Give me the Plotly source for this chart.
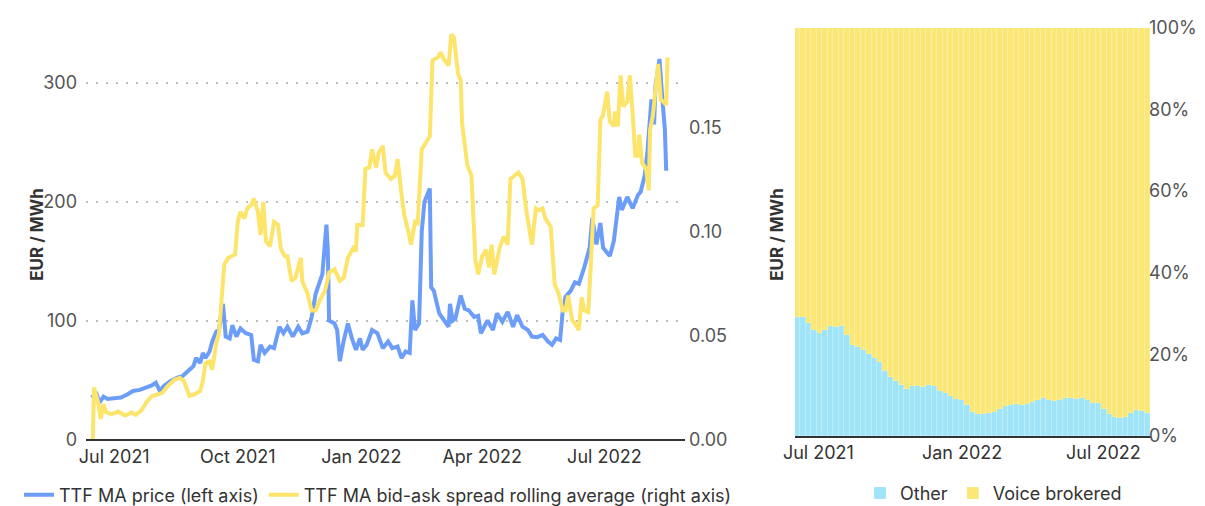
import pandas as pd
import plotly.graph_objects as go

# ---------------- data ----------------
BASE = pd.Timestamp("2021-07-01")

# TTF MA price (EUR/MWh) - days relative to 1 Jul 2021
price_days = [-17, -13, -11, -8, -5, 0, 5, 10, 14, 19, 24, 28, 31, 34, 37, 42, 47, 51, 55, 59,
              61, 64, 66, 68, 71, 73, 76, 78, 81, 83, 86, 88, 91, 94, 98, 102, 104, 107, 109, 112,
              116, 119, 123, 126, 129, 133, 137, 140, 144, 147, 150, 153, 155, 158, 159, 160, 164, 166, 168, 171,
              174, 177, 180, 183, 185, 188, 192, 196, 200, 204, 207, 211, 214, 217, 220, 222, 224, 227, 229, 231,
              235, 236, 238, 242, 246, 249, 250, 252, 254, 258, 261, 264, 268, 271, 273, 278, 282, 285, 289, 293,
              297, 300, 304, 308, 311, 315, 319, 323, 326, 329, 332, 334, 336, 340, 343, 346, 350, 354, 356, 359,
              362, 364, 369, 372, 376, 378, 382, 386, 390, 392, 395, 397, 400, 402, 403, 406, 408, 410, 411]
price = [35.3, 38, 31, 36, 34, 34.5, 35.3, 38, 40.8, 41.7, 43.6, 45.5, 47.8, 40.8, 45, 49.2, 52, 53.3, 57.5, 61.6,
         68.5, 64.4, 72.7, 68.5, 74, 82.4, 90.7, 92, 114, 86.5, 85, 96, 86.5, 93.4, 89.3, 87.9, 67, 65.8, 79.6, 72.7,
         78, 76.8, 94.8, 89.3, 94.8, 86.5, 94.8, 89.3, 90.7, 103, 122.5, 133.6, 139, 180.6, 161, 100, 97.6, 92, 65.8, 83.7,
         97.6, 85, 75.4, 85, 75.4, 79.6, 92, 89.3, 76.8, 82.4, 76.8, 78.2, 68.5, 74, 72.7, 117, 92, 97.6, 175, 200,
         211, 128, 125, 106, 100, 94.8, 114, 100, 101.7, 121, 110, 108.6, 103, 104, 89.3, 100, 92, 106, 99, 107.3,
         94.8, 104.5, 94.8, 92, 86.5, 86, 87.9, 82.4, 79.6, 85, 83.7, 108.6, 119.8, 125.2, 132.2, 130.8, 144.7, 161.3, 186.2, 164,
         182, 161.3, 154.3, 166.8, 204, 193, 204, 194.5, 205.6, 208.3, 222, 241.5, 286, 265, 297, 320, 288.6, 261, 226]

# TTF MA bid-ask spread rolling average - days relative to 1 Jul 2021
spread_days = [-16, -15, -12, -10, -8, -6, -2, 3, 8, 13, 16, 20, 24, 28, 33, 36, 40, 45, 49, 52,
               56, 60, 64, 66, 68, 71, 73, 76, 78, 80, 82, 85, 87, 90, 92, 94, 97, 99, 102, 104,
               107, 109, 111, 113, 116, 119, 122, 124, 127, 129, 132, 135, 139, 140, 144, 147, 150, 153, 157, 160,
               164, 168, 171, 174, 178, 180, 181, 185, 187, 190, 192, 195, 197, 200, 202, 206, 209, 211, 214, 216,
               219, 221, 224, 226, 229, 232, 235, 237, 241, 243, 246, 249, 251, 253, 256, 258, 259, 263, 266, 269,
               271, 274, 277, 279, 281, 283, 287, 290, 293, 295, 298, 301, 304, 307, 311, 314, 316, 319, 321, 325,
               328, 331, 334, 336, 338, 341, 343, 346, 348, 350, 353, 355, 357, 360, 362, 364, 367, 369, 372, 373,
               375, 377, 379, 382, 384, 386, 388, 390, 391, 393, 396, 398, 399, 401, 403, 405, 407, 409, 411, 412]
spread = [0.0, 0.0249, 0.0178, 0.0099, 0.017, 0.013, 0.0122, 0.0134, 0.0115, 0.013, 0.0118, 0.0138, 0.0178, 0.0209, 0.0217, 0.0225, 0.0257, 0.0288, 0.0296, 0.028,
          0.021, 0.0217, 0.0233, 0.028, 0.0367, 0.0375, 0.0336, 0.0462, 0.051, 0.0667, 0.0841, 0.0873, 0.088, 0.0889, 0.1046, 0.1094, 0.1062, 0.111, 0.1126, 0.1157,
          0.1094, 0.0983, 0.1141, 0.0952, 0.0928, 0.1046, 0.1031, 0.092, 0.088, 0.088, 0.0762, 0.0778, 0.0873, 0.0762, 0.0699, 0.062, 0.062, 0.0667, 0.0715, 0.0802,
          0.0818, 0.0762, 0.0778, 0.0873, 0.092, 0.0904, 0.1031, 0.1031, 0.13, 0.1307, 0.1394, 0.1307, 0.1378, 0.141, 0.1283, 0.1252, 0.1268, 0.1347, 0.1173, 0.1078,
          0.0999, 0.0936, 0.1046, 0.1039, 0.1394, 0.1426, 0.1457, 0.1821, 0.1836, 0.186, 0.1821, 0.1797, 0.1947, 0.1931, 0.1757, 0.1726, 0.152, 0.1315, 0.1268, 0.0857,
          0.0794, 0.088, 0.0912, 0.0826, 0.0936, 0.0794, 0.092, 0.0975, 0.0936, 0.1252, 0.1268, 0.1283, 0.1252, 0.1094, 0.0936, 0.111, 0.1102, 0.111, 0.1062, 0.1023,
          0.0746, 0.0699, 0.062, 0.062, 0.0691, 0.0573, 0.0557, 0.0525, 0.0683, 0.062, 0.0612, 0.0873, 0.111, 0.1126, 0.1536, 0.156, 0.1671, 0.1528, 0.1505, 0.1576,
          0.1505, 0.175, 0.16, 0.1623, 0.175, 0.1568, 0.1363, 0.1363, 0.1465, 0.1331, 0.13, 0.1197, 0.1489, 0.1552, 0.1663, 0.1805, 0.1631, 0.1623, 0.1607, 0.1836]

# Weekly share of traded volume (%), weeks starting 1 Jun 2021
week_start = "2021-06-01"
other_share = [29.3, 29.3, 27.8, 26.1, 25.2, 26.1, 26.9, 26.8, 27.0, 24.8,
               22.3, 21.8, 21.1, 20.1, 19.1, 18.2, 16.0, 14.4, 13.6, 12.5,
               11.7, 12.2, 12.4, 12.1, 12.6, 12.4, 11.2, 10.5, 9.9, 9.2,
               8.9, 7.6, 5.9, 5.5, 5.5, 5.6, 6.0, 6.8, 7.3, 7.6,
               7.8, 7.6, 7.9, 8.3, 8.9, 9.3, 8.9, 8.7, 8.9, 9.3,
               9.4, 9.1, 9.3, 8.8, 8.2, 8.2, 6.8, 5.5, 4.7, 4.4,
               4.6, 5.6, 6.5, 6.2, 5.8]
voice_share = [70.7, 70.7, 72.2, 73.9, 74.8, 73.9, 73.1, 73.2, 73.0, 75.2,
               77.7, 78.2, 78.9, 79.9, 80.9, 81.8, 84.0, 85.6, 86.4, 87.5,
               88.3, 87.8, 87.6, 87.9, 87.4, 87.6, 88.8, 89.5, 90.1, 90.8,
               91.1, 92.4, 94.1, 94.5, 94.5, 94.4, 94.0, 93.2, 92.7, 92.4,
               92.2, 92.4, 92.1, 91.7, 91.1, 90.7, 91.1, 91.3, 91.1, 90.7,
               90.6, 90.9, 90.7, 91.2, 91.8, 91.8, 93.2, 94.5, 95.3, 95.6,
               95.4, 94.4, 93.5, 93.8, 94.2]

left_tick_dates = ["2021-07-01", "2021-10-01", "2022-01-01", "2022-04-01", "2022-07-01"]
left_tick_text = ["Jul 2021", "Oct 2021", "Jan 2022", "Apr 2022", "Jul 2022"]
right_tick_dates = ["2021-07-01", "2022-01-01", "2022-07-01"]
right_tick_text = ["Jul 2021", "Jan 2022", "Jul 2022"]
share_ticks = [0, 20, 40, 60, 80, 100]
share_tick_text = ["0%", "20%", "40%", "60%", "80%", "100%"]

# ---------------- build ----------------
price_dates = [BASE + pd.Timedelta(days=d) for d in price_days]
spread_dates = [BASE + pd.Timedelta(days=d) for d in spread_days]
week_dates = pd.date_range(week_start, periods=len(other_share), freq="7D")
WEEK_MS = 7 * 24 * 3600 * 1000

BLUE = "#6C9DF9"
YELLOW = "#FDE46B"
CYAN = "#9FE4F8"
VOICE = "#FAE775"
FONT = "Inter"

fig = go.Figure()
fig.add_trace(go.Scatter(x=price_dates, y=price, mode="lines", name="TTF MA price (left axis)",
                         line=dict(color=BLUE, width=4), xaxis="x", yaxis="y", legend="legend"))
fig.add_trace(go.Scatter(x=spread_dates, y=spread, mode="lines",
                         name="TTF MA bid-ask spread rolling average (right axis)",
                         line=dict(color=YELLOW, width=4), xaxis="x", yaxis="y2", legend="legend"))
fig.add_trace(go.Bar(x=week_dates, y=other_share, name="Other",
                     marker=dict(color=CYAN, line=dict(width=0.4, color="rgba(255,255,255,0.45)")),
                     width=WEEK_MS, offset=0, xaxis="x2", yaxis="y3", legend="legend2"))
fig.add_trace(go.Bar(x=week_dates, y=voice_share, name="Voice brokered",
                     marker=dict(color=VOICE, line=dict(width=0.4, color="rgba(255,255,255,0.45)")),
                     width=WEEK_MS, offset=0, xaxis="x2", yaxis="y3", legend="legend2"))

W, H = 1205, 506
def px_x(p):
    return p / W
def px_y(p):
    return 1 - p / H

tick_font_dark = dict(family=FONT, size=18, color="#333333")
tick_font_grey = dict(family=FONT, size=18, color="#555555")

fig.update_layout(
    width=W, height=H,
    margin=dict(l=0, r=0, t=0, b=0),
    paper_bgcolor="white", plot_bgcolor="white",
    font=dict(family=FONT, size=18, color="#333333"),
    barmode="stack", bargap=0,
    xaxis=dict(domain=[px_x(78), px_x(677)], anchor="y", type="date",
               range=["2021-06-10", "2022-08-30"],
               tickvals=left_tick_dates, ticktext=left_tick_text, tickfont=tick_font_dark,
               showline=True, linecolor="#333333", linewidth=1.5, showgrid=False, zeroline=False,
               ticks="", automargin=False),
    yaxis=dict(domain=[px_y(437.5), px_y(15.5)], anchor="free", position=px_x(73), range=[0, 350],
               tickvals=[0, 100, 200, 300], tickfont=tick_font_grey,
               showgrid=True, gridcolor="#bdbdbd", griddash="2px,8px", gridwidth=1.5,
               zeroline=False, showline=False, ticks="", ticklabelstandoff=4,
               automargin=False),
    yaxis2=dict(overlaying="y", side="right", anchor="free", position=px_x(670), range=[0, 0.2],
                tickvals=[0, 0.05, 0.10, 0.15], tickformat=".2f", tickfont=tick_font_grey,
                showgrid=False, zeroline=False, showline=False, ticks="",
                ticklabelstandoff=10, automargin=False),
    xaxis2=dict(domain=[px_x(787), px_x(1143)], anchor="y3", type="date",
                range=["2021-06-01", "2022-08-31"],
                tickvals=right_tick_dates, ticktext=right_tick_text, tickfont=tick_font_dark,
                showline=True, linecolor="#333333", linewidth=1.5, showgrid=False, zeroline=False,
                ticks="", automargin=False),
    yaxis3=dict(domain=[px_y(434), px_y(20)], anchor="free", position=px_x(1136), side="right",
                range=[0, 100],
                tickvals=share_ticks, ticktext=share_tick_text, tickfont=tick_font_grey,
                showgrid=False, zeroline=False, showline=False, ticks="",
                ticklabelstandoff=4, automargin=False),
    legend=dict(orientation="h", x=px_x(11), xanchor="left", y=px_y(494), yanchor="middle",
                font=dict(family=FONT, size=18, color="#333333"), bgcolor="rgba(0,0,0,0)",
                itemclick=False, tracegroupgap=0),
    legend2=dict(orientation="h", x=px_x(852), xanchor="left", y=px_y(492), yanchor="middle",
                 font=dict(family=FONT, size=18, color="#333333"), bgcolor="rgba(0,0,0,0)",
                 itemclick=False, traceorder="normal"),
    annotations=[
        dict(text="<b>EUR / MWh</b>", x=px_x(17), y=px_y(230), xref="paper", yref="paper",
             textangle=-90, showarrow=False, font=dict(family=FONT, size=17, color="#333333")),
        dict(text="<b>EUR / MWh</b>", x=px_x(769), y=px_y(230), xref="paper", yref="paper",
             textangle=-90, showarrow=False, font=dict(family=FONT, size=17, color="#333333")),
    ],
)

fig.write_html("out.html")
